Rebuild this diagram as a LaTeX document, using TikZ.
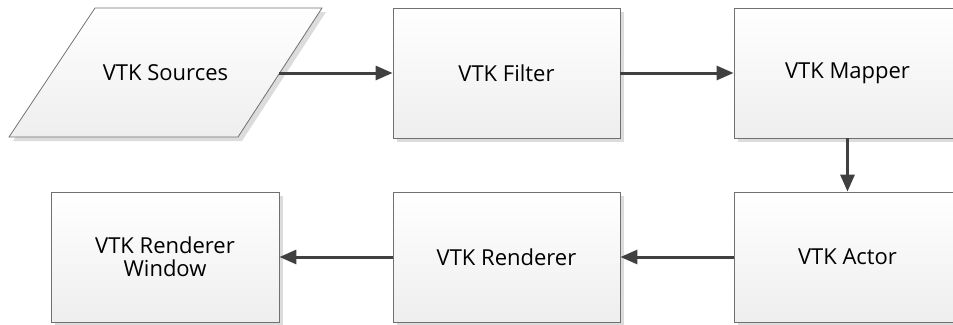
\documentclass[tikz,border=0pt]{standalone}
\usepackage{fontspec}
\setmainfont{Open Sans}
\usetikzlibrary{arrows.meta,shadows}
\definecolor{boxborder}{HTML}{707070}
\definecolor{boxbot}{HTML}{EEEEEE}
\definecolor{shadowgray}{HTML}{DCDCDC}
\definecolor{arrowgray}{HTML}{404040}
\definecolor{txt}{HTML}{000000}
\begin{document}
\begin{tikzpicture}[x=1pt,y=1pt,
  lbl/.style={text=txt, font=\fontsize{22}{23}\selectfont},
  box/.style={draw=boxborder, line width=0.8pt, top color=white, bottom color=boxbot,
    minimum width=227pt, minimum height=130pt, inner sep=0pt, align=center, lbl,
    drop shadow={shadow xshift=4pt, shadow yshift=-4pt, fill=shadowgray, opacity=1}},
  conn/.style={draw=arrowgray, line width=3pt, -{Triangle[length=17pt,width=14pt]}}]
\useasboundingbox (0,0) rectangle (953,-324);
\clip (0,0) rectangle (953,-324);
% parallelogram (VTK Sources)
\fill[shadowgray] (99,-12) -- (326,-12) -- (242,-141) -- (13,-141) -- cycle;
\path[draw=boxborder, line width=0.8pt, top color=white, bottom color=boxbot]
  (95,-8) -- (322,-8) -- (238,-137) -- (9,-137) -- cycle;
\node[lbl] (src) at (165.5,-73) {VTK Sources};
\coordinate (srcE) at (279,-73);
\node[box] (filter) at (506.5,-73) {VTK Filter};
\node[box] (mapper) at (847.5,-73) {VTK Mapper};
\node[box] (actor) at (847.5,-257) {VTK Actor};
\node[box] (renderer) at (506.5,-257) {VTK Renderer};
\node[box, minimum width=228pt] (window) at (165,-257) {VTK Renderer\\Window};
\draw[conn] (srcE) -- (filter.west);
\draw[conn] (filter.east) -- (mapper.west);
\draw[conn] (mapper.south) -- (actor.north);
\draw[conn] (actor.west) -- (renderer.east);
\draw[conn] (renderer.west) -- (window.east);
\end{tikzpicture}
\end{document}
